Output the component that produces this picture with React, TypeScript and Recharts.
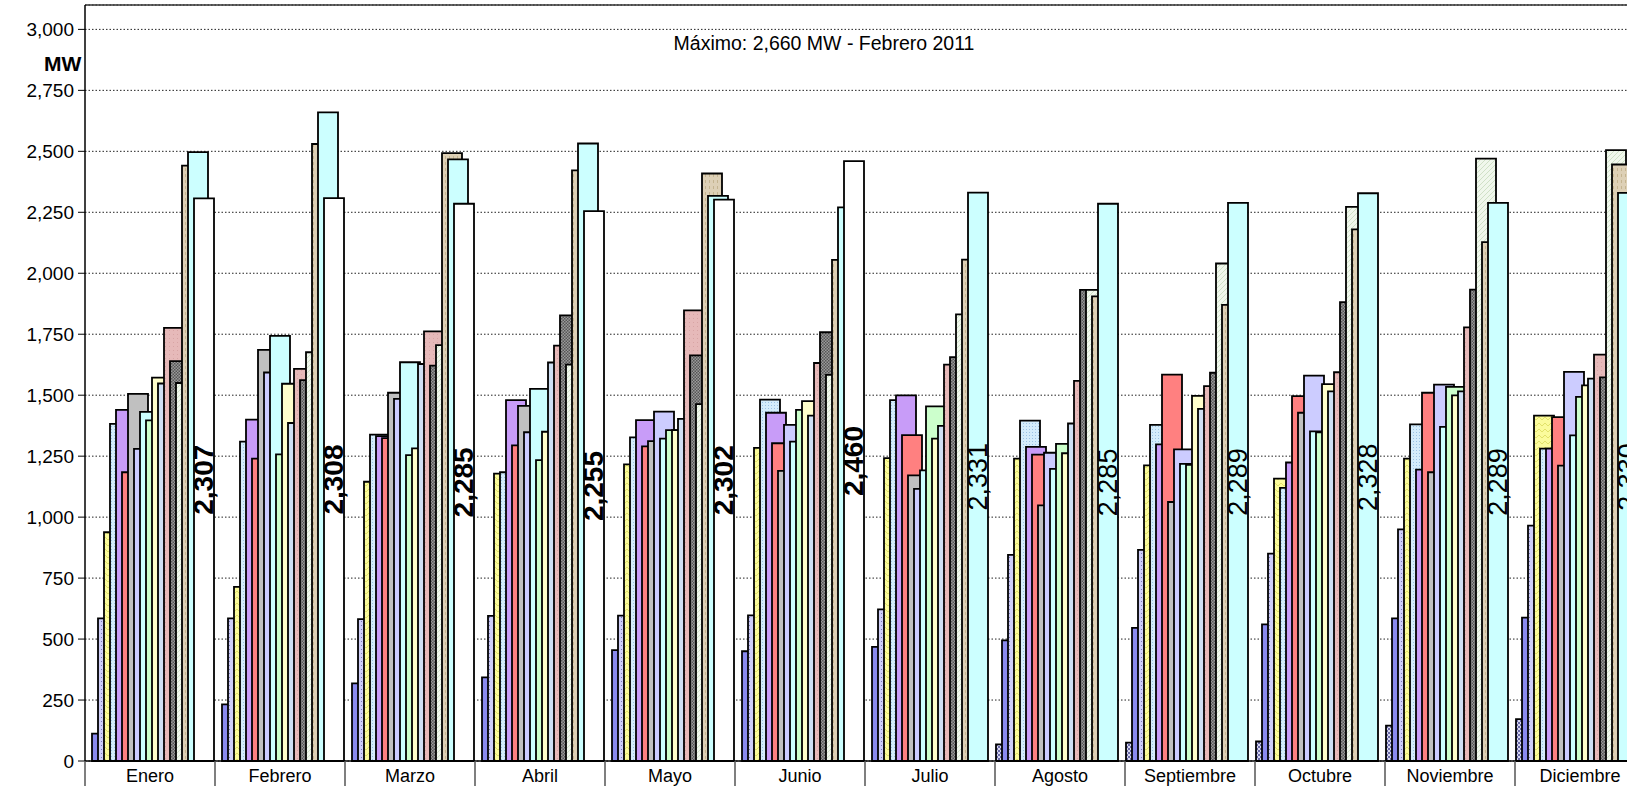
import React from 'react';
import { BarChart, Bar, XAxis, YAxis, CartesianGrid, ReferenceLine } from 'recharts';

const months = ['Enero', 'Febrero', 'Marzo', 'Abril', 'Mayo', 'Junio', 'Julio', 'Agosto', 'Septiembre', 'Octubre', 'Noviembre', 'Diciembre'];
const yTicks = [0, 250, 500, 750, 1000, 1250, 1500, 1750, 2000, 2250, 2500, 2750, 3000];

// one array per year, MW per month
const s1994 = [null, null, null, null, null, null, null, 68, 75, 80, 145, 172];
const s1995 = [112, 232, 318, 343, 455, 450, 468, 495, 546, 560, 585, 588];
const s1996 = [585, 585, 582, 595, 596, 597, 622, 845, 866, 850, 950, 965];
const s1997 = [938, 714, 1145, 1178, 1216, 1284, 1242, 1240, 1212, 1158, 1240, 1416];
const s1998 = [1382, 1310, 1338, 1184, 1327, 1482, 1480, 1396, 1378, 1120, 1380, 1281];
const s1999 = [1440, 1400, 1332, 1480, 1398, 1428, 1499, 1288, 1298, 1224, 1195, 1281];
const s2000 = [1184, 1240, 1324, 1294, 1290, 1303, 1336, 1256, 1584, 1496, 1510, 1410];
const s2001 = [1505, 1686, 1510, 1456, 1312, 1190, 1171, 1048, 1062, 1428, 1184, 1211];
const s2002 = [1280, 1593, 1485, 1348, 1433, 1378, 1116, 1264, 1278, 1580, 1543, 1596];
const s2003 = [1432, 1743, 1635, 1526, 1322, 1310, 1192, 1198, 1218, 1352, 1370, 1335];
const s2004 = [1397, 1257, 1254, 1234, 1357, 1440, 1454, 1300, 1214, 1348, 1534, 1493];
const s2005 = [1572, 1547, 1282, 1350, 1357, 1476, 1322, 1262, 1497, 1545, 1499, 1540];
const s2006 = [1548, 1386, 1628, 1634, 1403, 1416, 1374, 1384, 1444, 1516, 1516, 1568];
const s2007 = [1776, 1608, 1762, 1703, 1848, 1632, 1625, 1559, 1537, 1594, 1778, 1666];
const s2008 = [1640, 1562, 1621, 1827, 1663, 1758, 1656, 1932, 1592, 1882, 1933, 1573];
const s2009 = [1550, 1676, 1705, 1625, 1463, 1583, 1831, 1932, 2040, 2272, 2470, 2505];
const s2010 = [2441, 2530, 2493, 2422, 2409, 2055, 2056, 1905, 1870, 2180, 2128, 2446];
const s2011 = [2497, 2660, 2467, 2532, 2317, 2270, 2331, 2285, 2289, 2328, 2289, 2330];
const s2012 = [2307, 2308, 2285, 2255, 2302, 2460, null, null, null, null, null, null];

const years = [s1994, s1995, s1996, s1997, s1998, s1999, s2000, s2001, s2002, s2003, s2004, s2005, s2006, s2007, s2008, s2009, s2010, s2011, s2012];
const fills = [
  'url(#pChk)', '#8a8aef', 'url(#pLav)', 'url(#pYel)', 'url(#pDot)', '#c89cf8', '#ff8080', '#c0c0c0',
  '#ccccff', '#ccffff', '#ccffcc', '#ffffcc', '#cfe0f4', 'url(#pPink)', 'url(#pDark)', 'url(#pHatch)',
  'url(#pTan)', '#ccffff', '#ffffff',
];

const data = months.map((m, i) => {
  const row: any = { month: m };
  years.forEach((arr, k) => { row['y' + k] = arr[i]; });
  return row;
});

const FONT = 'Liberation Sans, Arial, sans-serif';
const fmt = (v: number) => v.toLocaleString('en-US');

const barLabel = (bold: boolean, from: number) => (props: any) => {
  const { x, y, width, height, value, index } = props;
  if (value == null || index < from) return null;
  const cx = x + width / 2;
  const cy = y + height / 2;
  return (
    <text x={cx} y={cy} transform={`rotate(-90 ${cx} ${cy})`} textAnchor="middle" dominantBaseline="central"
      fontSize={bold ? 28 : 27} fontWeight={bold ? 'bold' : 'normal'} fontFamily={FONT} fill="#000">
      {fmt(value)}
    </text>
  );
};

const MonthTick = (props: any) => {
  const { x, payload } = props;
  const left = x - 65;
  return (
    <g>
      <line x1={left} y1={761} x2={left} y2={790} stroke="#555" strokeWidth={1.5} />
      <text x={x} y={782} textAnchor="middle" fontSize={18} fontFamily={FONT} fill="#000">{payload.value}</text>
    </g>
  );
};

export default function App() {
  return (
    <div style={{ position: 'fixed', left: 0, top: 0, width: 1627, height: 786, overflow: 'hidden', background: '#fff' }}>
      <BarChart width={1650} height={786} data={data} margin={{ top: 5, right: 5, bottom: 0, left: 0 }} barSize={20} barGap={-14}>
        <defs>
          <pattern id="pChk" width="4" height="4" patternUnits="userSpaceOnUse">
            <rect width="4" height="4" fill="#d8d8f0" />
            <rect width="2" height="2" fill="#6a6aa8" />
            <rect x="2" y="2" width="2" height="2" fill="#6a6aa8" />
          </pattern>
          <pattern id="pLav" width="4" height="4" patternUnits="userSpaceOnUse">
            <rect width="4" height="4" fill="#cfcff9" />
            <rect x="1" y="1" width="1" height="1" fill="#7b7bb8" />
          </pattern>
          <pattern id="pYel" width="6" height="6" patternUnits="userSpaceOnUse">
            <rect width="6" height="6" fill="#fbfb9c" />
            <path d="M0 6 L3 3 L6 6" stroke="#e2e26a" strokeWidth="1" fill="none" />
          </pattern>
          <pattern id="pDot" width="3" height="3" patternUnits="userSpaceOnUse">
            <rect width="3" height="3" fill="#d4ecfb" />
            <rect width="1" height="1" fill="#9cc2e4" />
          </pattern>
          <pattern id="pPink" width="4" height="4" patternUnits="userSpaceOnUse">
            <rect width="4" height="4" fill="#e6b9b9" />
            <rect x="1" y="2" width="1" height="1" fill="#d8a4a4" />
          </pattern>
          <pattern id="pDark" width="3" height="3" patternUnits="userSpaceOnUse">
            <rect width="3" height="3" fill="#9a9a9a" />
            <rect width="1.5" height="1.5" fill="#555" />
            <rect x="1.5" y="1.5" width="1.5" height="1.5" fill="#555" />
          </pattern>
          <pattern id="pHatch" width="5" height="5" patternUnits="userSpaceOnUse">
            <rect width="5" height="5" fill="#f0f7ec" />
            <path d="M0 5 L5 0" stroke="#cfe0c6" strokeWidth="1" />
          </pattern>
          <pattern id="pTan" width="4" height="6" patternUnits="userSpaceOnUse">
            <rect width="4" height="6" fill="#ddd0b6" />
            <rect x="1" y="0" width="1" height="3" fill="#c4b490" />
          </pattern>
        </defs>
        <CartesianGrid vertical={false} stroke="#222" strokeDasharray="1.5 2" />
        <XAxis dataKey="month" interval={0} tickLine={false} tickSize={0} tickMargin={0} height={25}
          axisLine={{ stroke: '#000', strokeWidth: 1.5 }} tick={<MonthTick />} />
        <YAxis domain={[0, 3100]} ticks={yTicks} interval={0} width={85} tickSize={7} tickMargin={4}
          tickFormatter={fmt} axisLine={{ stroke: '#000', strokeWidth: 1.5 }} tickLine={{ stroke: '#000' }}
          tick={{ fontSize: 19, fontFamily: FONT, fill: '#000' }} />
        <ReferenceLine y={3100} stroke="#333" strokeWidth={1.5} />
        {years.map((_, k) => (
          <Bar key={k} dataKey={'y' + k} fill={fills[k]} stroke="#000" strokeWidth={1.8} isAnimationActive={false}
            label={k === 18 ? barLabel(true, 0) : k === 17 ? barLabel(false, 6) : undefined} />
        ))}
      </BarChart>
      <div style={{ position: 'absolute', left: 44, top: 52, fontFamily: FONT, fontWeight: 'bold', fontSize: 21 }}>MW</div>
      <div style={{ position: 'absolute', left: 824, top: 32, transform: 'translateX(-50%)', whiteSpace: 'nowrap', fontFamily: FONT, fontSize: 19.5 }}>
        Máximo: 2,660 MW - Febrero 2011
      </div>
    </div>
  );
}
